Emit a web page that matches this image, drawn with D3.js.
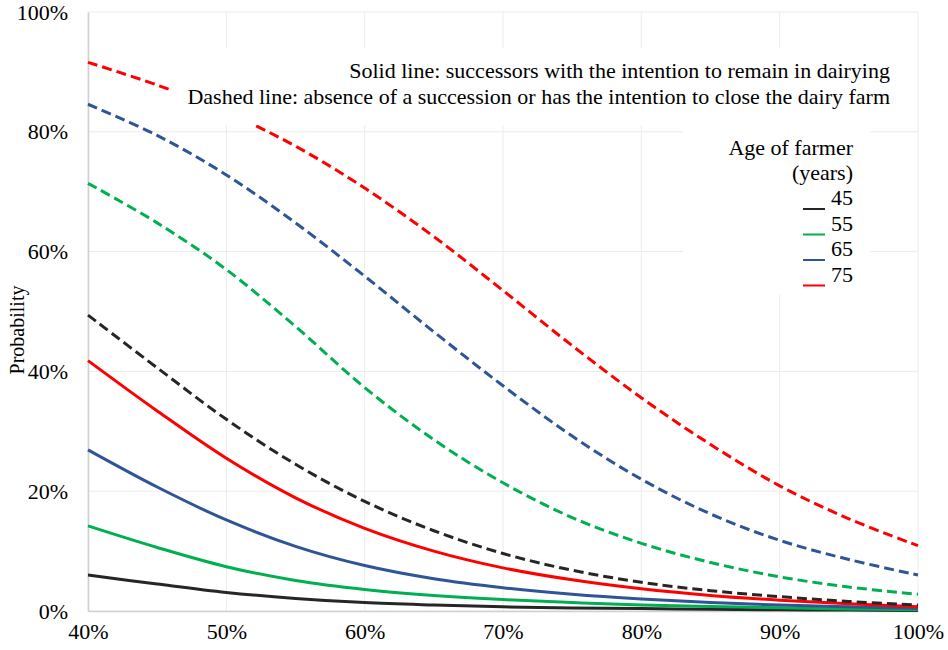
<!DOCTYPE html>
<html>
<head>
<meta charset="utf-8">
<script src="https://cdn.jsdelivr.net/npm/d3@7"></script>
<style>
  body { margin: 0; background: #fff; }
  text { font-family: "Liberation Serif", "Times New Roman", serif; fill: #000; }
</style>
</head>
<body>
<svg width="948" height="650"></svg>
<script>
// x values (share, %), probabilities in %
const xValues = [40, 45, 50, 55, 60, 65, 70, 75, 80, 85, 90, 95, 100];

const solid45 = [6.0, 4.5, 3.1, 2.1, 1.4, 1.0, 0.7, 0.5, 0.4, 0.3, 0.2, 0.15, 0.1];
const solid55 = [14.2, 10.6, 7.4, 5.1, 3.6, 2.6, 1.9, 1.4, 1.0, 0.75, 0.55, 0.35, 0.2];
const solid65 = [26.9, 20.7, 15.2, 10.8, 7.6, 5.4, 3.9, 2.8, 2.0, 1.4, 1.0, 0.7, 0.4];
const solid75 = [41.8, 33.4, 25.5, 18.9, 13.8, 10.0, 7.2, 5.2, 3.7, 2.6, 1.8, 1.2, 0.7];

const dashed45 = [49.4, 40.6, 32.0, 24.5, 18.3, 13.4, 9.6, 6.8, 4.8, 3.4, 2.4, 1.6, 1.0];
const dashed55 = [71.4, 64.8, 57.0, 47.5, 37.3, 28.6, 21.4, 15.6, 11.3, 8.1, 5.7, 4.0, 2.8];
const dashed65 = [84.6, 79.4, 72.8, 64.8, 55.9, 46.6, 37.6, 29.2, 22.0, 16.2, 11.8, 8.6, 6.0];
const dashed75 = [91.6, 87.8, 83.3, 77.6, 70.6, 62.5, 53.5, 44.3, 35.6, 27.8, 20.9, 15.4, 10.9];

const ages = ["45", "55", "65", "75"];
const colors = ["#262626", "#00b050", "#2f5597", "#ff0000"];
const xTicks = [40, 50, 60, 70, 80, 90, 100];
const yTicks = [0, 20, 40, 60, 80, 100];

const series = [
  { age: "45", values: solid45, dashed: false },
  { age: "55", values: solid55, dashed: false },
  { age: "65", values: solid65, dashed: false },
  { age: "75", values: solid75, dashed: false },
  { age: "45", values: dashed45, dashed: true },
  { age: "55", values: dashed55, dashed: true },
  { age: "65", values: dashed65, dashed: true },
  { age: "75", values: dashed75, dashed: true },
];

const svg = d3.select("svg");
const margin = { top: 12, right: 30, bottom: 39, left: 88 };
const width = +svg.attr("width") - margin.left - margin.right;
const height = +svg.attr("height") - margin.top - margin.bottom;
const g = svg.append("g").attr("transform", `translate(${margin.left},${margin.top})`);

const x = d3.scaleLinear().domain([40, 100]).range([0, width]);
const y = d3.scaleLinear().domain([0, 100]).range([height, 0]);
const color = d3.scaleOrdinal().domain(ages).range(colors);

// grid
g.append("g")
  .attr("class", "grid-x")
  .selectAll("line")
  .data(xTicks)
  .join("line")
  .attr("x1", (d) => x(d))
  .attr("x2", (d) => x(d))
  .attr("y1", 0)
  .attr("y2", height)
  .attr("stroke", "#ececec")
  .attr("stroke-width", 1);

g.append("g")
  .attr("class", "grid-y")
  .selectAll("line")
  .data(yTicks)
  .join("line")
  .attr("x1", 0)
  .attr("x2", width)
  .attr("y1", (d) => y(d))
  .attr("y2", (d) => y(d))
  .attr("stroke", "#ececec")
  .attr("stroke-width", 1);

// axes
const xAxis = g.append("g")
  .attr("transform", `translate(0,${height})`)
  .call(d3.axisBottom(x).tickValues(xTicks).tickSize(0).tickPadding(21).tickFormat((d) => d + "%"));
const yAxis = g.append("g")
  .call(d3.axisLeft(y).tickValues(yTicks).tickSize(0).tickPadding(20).tickFormat((d) => d + "%"));

[xAxis, yAxis].forEach((a) => {
  a.attr("font-family", null);
  a.select(".domain").attr("stroke", "#d0d0d0").attr("stroke-width", 1.5);
  a.selectAll("text")
    .style("font-family", '"Liberation Serif", serif')
    .style("font-size", "22px")
    .attr("fill", "#000");
});
xAxis.selectAll("text").attr("dy", "0.32em");

// lines
const line = d3.line()
  .x((d, i) => x(xValues[i]))
  .y((d) => y(d))
  .curve(d3.curveCatmullRom.alpha(0.5));

g.append("g")
  .attr("class", "curves")
  .selectAll("path")
  .data(series)
  .join("path")
  .attr("fill", "none")
  .attr("stroke", (d) => color(d.age))
  .attr("stroke-width", 3)
  .attr("stroke-dasharray", (d) => (d.dashed ? "10,5" : null))
  .attr("d", (d) => line(d.values));

// note box
svg.append("rect")
  .attr("x", 170).attr("y", 48)
  .attr("width", 730).attr("height", 77)
  .attr("fill", "#fff");

svg.append("text")
  .attr("x", 890).attr("y", 78)
  .attr("text-anchor", "end")
  .style("font-size", "22px")
  .text("Solid line: successors with the intention to remain in dairying");
svg.append("text")
  .attr("x", 890).attr("y", 104)
  .attr("text-anchor", "end")
  .style("font-size", "22px")
  .text("Dashed line: absence of a succession or has the intention to close the dairy farm");

// legend
svg.append("rect")
  .attr("x", 683).attr("y", 125)
  .attr("width", 187).attr("height", 170)
  .attr("fill", "#fff");

svg.append("text")
  .attr("x", 853).attr("y", 155)
  .attr("text-anchor", "end")
  .style("font-size", "22px")
  .text("Age of farmer");
svg.append("text")
  .attr("x", 853).attr("y", 180)
  .attr("text-anchor", "end")
  .style("font-size", "22px")
  .text("(years)");

const legend = svg.append("g")
  .selectAll("g")
  .data(ages)
  .join("g")
  .attr("transform", (d, i) => `translate(0,${205 + i * 25.5})`);

legend.append("line")
  .attr("x1", 803).attr("x2", 825)
  .attr("y1", 4).attr("y2", 4)
  .attr("stroke", (d) => color(d))
  .attr("stroke-width", 2);

legend.append("text")
  .attr("x", 853).attr("y", 0)
  .attr("text-anchor", "end")
  .style("font-size", "22px")
  .text((d) => d);

// y axis title
svg.append("text")
  .attr("transform", "translate(24,330) rotate(-90)")
  .attr("text-anchor", "middle")
  .style("font-size", "20px")
  .text("Probability");
</script>
</body>
</html>
